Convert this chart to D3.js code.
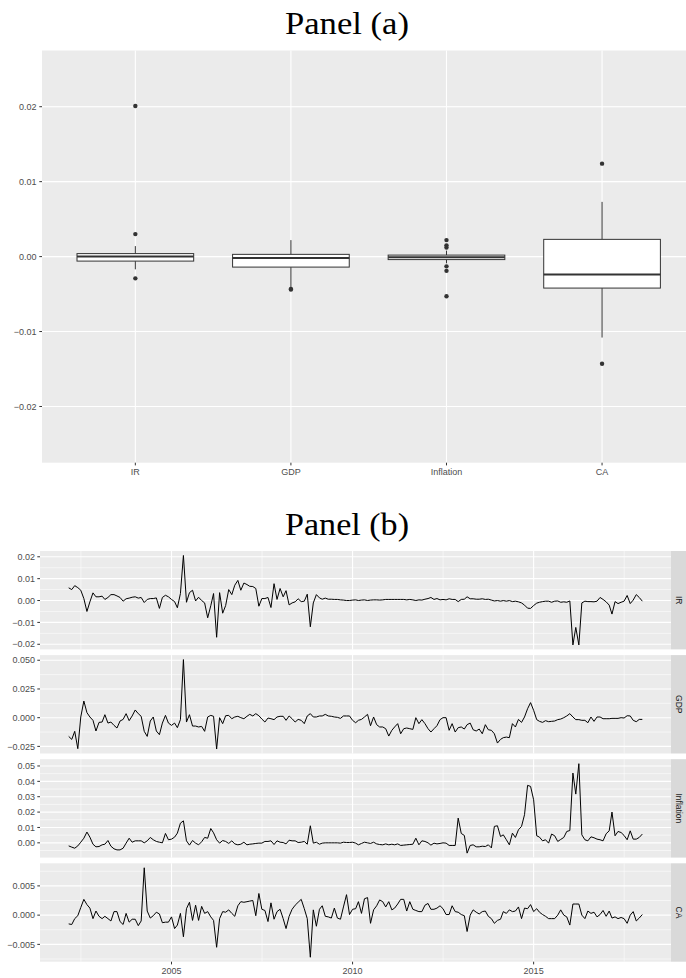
<!DOCTYPE html>
<html><head><meta charset="utf-8">
<script src="https://cdn.jsdelivr.net/npm/d3@7"></script>
<style>html,body{margin:0;padding:0;background:#fff;}svg{display:block;}</style>
</head><body>
<script>
// ---------------- DATA ----------------
const categories = ["IR", "GDP", "Inflation", "CA"];
const boxQ1  = [-0.0006, -0.0014, -0.0004, -0.0042];
const boxMed = [ 0.0000, -0.0002, -0.0001, -0.0024];
const boxQ3  = [ 0.0004,  0.0003,  0.0002,  0.0023];
const boxLo  = [-0.0017, -0.0042, -0.0009, -0.0108];
const boxHi  = [ 0.0014,  0.0022,  0.0008,  0.0073];
const boxOut = [[0.0201, 0.0030, -0.0029], [-0.0044, -0.0043],
                [0.0022, 0.0015, 0.0012, -0.0013, -0.0019, -0.0053], [0.0124, -0.0143]];
const yLimitsA = [-0.025, 0.025];
const yBreaksA = [-0.02, -0.01, 0, 0.01, 0.02];

const startMonth = [2002, 3];   // first observation (year, month)
const irVals = [0.0058,0.0050,0.0068,0.0059,0.0047,0.0009,-0.0050,-0.0006,0.0035,0.0017,
0.0017,0.0020,0.0005,0.0014,0.0027,0.0027,0.0021,0.0014,-0.0003,0.0008,
0.0011,0.0015,0.0017,0.0011,0.0014,-0.0009,0.0005,0.0009,0.0009,0.0012,
-0.0036,0.0014,0.0024,0.0017,0.0005,-0.0005,-0.0033,0.0032,0.0206,-0.0008,
0.0036,0.0047,-0.0002,0.0015,0.0000,-0.0011,-0.0079,-0.0024,0.0032,-0.0168,
0.0036,-0.0058,-0.0023,0.0050,0.0027,0.0070,0.0092,0.0047,0.0080,0.0073,
0.0065,0.0064,0.0055,-0.0026,0.0009,0.0009,0.0014,-0.0032,0.0077,0.0005,
0.0055,0.0017,0.0045,-0.0020,-0.0011,-0.0006,0.0008,-0.0005,-0.0003,0.0029,
-0.0120,-0.0011,0.0027,0.0012,0.0006,0.0011,0.0006,0.0006,0.0005,0.0005,
0.0003,0.0002,0.0000,0.0000,0.0002,0.0003,0.0000,0.0002,0.0003,0.0000,
0.0002,0.0003,0.0003,0.0002,0.0003,0.0005,0.0005,0.0005,0.0005,0.0005,
0.0005,0.0005,0.0003,0.0005,0.0003,0.0000,0.0003,0.0002,0.0006,0.0009,
0.0014,0.0005,0.0009,0.0003,0.0005,0.0003,0.0008,0.0005,0.0005,-0.0005,
0.0005,0.0006,0.0017,0.0008,0.0008,0.0006,0.0006,0.0008,0.0005,0.0006,
0.0002,-0.0002,0.0000,-0.0003,0.0000,-0.0003,0.0000,-0.0005,-0.0003,-0.0006,
-0.0011,-0.0021,-0.0035,-0.0036,-0.0023,-0.0012,-0.0008,-0.0005,-0.0003,-0.0003,
-0.0008,-0.0003,-0.0002,-0.0008,-0.0006,-0.0008,-0.0002,-0.0203,-0.0123,-0.0203,
-0.0011,-0.0003,-0.0005,-0.0005,-0.0006,-0.0003,0.0014,0.0005,-0.0006,-0.0021,
-0.0062,-0.0005,-0.0014,-0.0008,-0.0003,0.0023,-0.0014,0.0002,0.0027,0.0014,-0.0003];
const gdpVals = [-0.0163,-0.0189,-0.0119,-0.0270,0.0006,0.0145,0.0044,0.0006,-0.0023,-0.0116,
-0.0041,-0.0038,0.0026,-0.0047,-0.0038,-0.0067,-0.0090,-0.0029,-0.0015,0.0035,
-0.0026,0.0015,0.0067,0.0035,0.0012,-0.0119,-0.0163,-0.0029,0.0006,-0.0116,
-0.0148,-0.0047,0.0020,-0.0047,-0.0067,-0.0047,-0.0087,-0.0017,0.0506,-0.0038,
0.0026,-0.0073,-0.0073,-0.0081,-0.0076,-0.0119,0.0006,0.0020,0.0012,-0.0273,
0.0000,-0.0052,0.0017,0.0020,-0.0009,0.0006,0.0012,0.0000,-0.0009,0.0012,
0.0029,0.0015,0.0035,0.0017,-0.0012,-0.0038,-0.0003,-0.0009,-0.0017,0.0006,
0.0012,0.0012,-0.0023,0.0015,-0.0009,-0.0038,-0.0015,-0.0023,-0.0052,0.0015,
0.0035,0.0006,0.0006,0.0015,0.0015,0.0029,0.0015,0.0012,0.0006,0.0003,
-0.0006,0.0015,0.0015,0.0015,-0.0023,-0.0044,-0.0023,-0.0015,0.0006,0.0029,
-0.0070,0.0006,-0.0061,-0.0081,-0.0081,-0.0096,-0.0160,-0.0110,-0.0081,-0.0052,
-0.0140,-0.0096,-0.0090,-0.0096,-0.0102,0.0000,-0.0052,-0.0017,-0.0052,-0.0096,
-0.0125,-0.0096,-0.0070,-0.0017,0.0000,0.0000,-0.0110,-0.0052,-0.0125,-0.0087,
-0.0081,-0.0099,-0.0061,-0.0047,-0.0105,-0.0116,-0.0099,-0.0140,-0.0061,-0.0105,
-0.0110,-0.0140,-0.0221,-0.0189,-0.0174,-0.0169,-0.0174,-0.0052,-0.0081,-0.0015,
-0.0041,0.0006,0.0078,0.0131,0.0064,-0.0017,-0.0032,-0.0041,-0.0026,-0.0035,
-0.0032,-0.0029,-0.0017,-0.0012,0.0000,0.0015,0.0035,0.0006,-0.0017,-0.0017,
-0.0023,-0.0023,-0.0044,0.0006,-0.0032,0.0006,0.0006,-0.0009,-0.0009,-0.0009,
-0.0006,-0.0006,-0.0006,0.0000,-0.0003,0.0017,0.0015,-0.0023,-0.0035,-0.0015,-0.0015];
const inflVals = [-0.0020,-0.0028,-0.0035,-0.0020,0.0004,0.0030,0.0070,0.0037,-0.0009,-0.0026,
-0.0024,-0.0013,-0.0009,0.0015,-0.0022,-0.0039,-0.0046,-0.0046,-0.0035,-0.0002,
0.0030,0.0004,0.0013,0.0013,0.0013,0.0000,0.0013,0.0035,0.0020,0.0009,
0.0004,0.0000,0.0061,0.0020,0.0024,0.0037,0.0063,0.0128,0.0143,0.0013,
-0.0015,0.0015,-0.0002,-0.0013,0.0007,0.0035,0.0030,0.0093,0.0065,0.0020,
-0.0002,0.0015,0.0009,-0.0004,0.0013,-0.0007,-0.0013,-0.0009,0.0004,-0.0013,
-0.0009,-0.0007,-0.0004,-0.0002,-0.0002,0.0009,0.0009,0.0013,-0.0011,0.0013,
0.0004,0.0002,-0.0007,0.0017,0.0013,0.0013,0.0002,0.0004,0.0009,-0.0009,
0.0111,-0.0002,0.0004,-0.0009,-0.0002,0.0000,0.0000,0.0000,0.0000,0.0000,
-0.0002,0.0004,0.0002,0.0002,0.0004,-0.0002,-0.0013,-0.0004,0.0004,0.0000,
-0.0004,0.0004,-0.0007,-0.0011,-0.0013,-0.0007,-0.0013,-0.0009,-0.0013,-0.0007,
-0.0017,-0.0015,-0.0013,-0.0011,-0.0009,0.0030,-0.0013,0.0013,0.0009,0.0000,
-0.0015,-0.0002,-0.0007,-0.0004,0.0000,-0.0002,-0.0017,-0.0017,-0.0017,0.0161,
0.0061,0.0048,-0.0067,-0.0017,-0.0013,-0.0026,-0.0026,-0.0022,-0.0024,-0.0013,
-0.0033,0.0107,0.0111,0.0041,0.0052,0.0020,-0.0013,0.0063,0.0035,0.0085,
0.0107,0.0183,0.0374,0.0367,0.0280,0.0046,0.0037,0.0013,0.0020,-0.0002,
0.0057,0.0046,0.0009,0.0022,0.0035,0.0074,0.0080,0.0454,0.0317,0.0515,
0.0052,0.0020,0.0013,0.0039,0.0033,0.0024,0.0020,0.0013,0.0059,0.0078,
0.0200,0.0046,0.0074,0.0067,0.0048,0.0020,0.0078,0.0024,0.0024,0.0035,0.0057];
const caVals = [-0.0015,-0.0016,-0.0006,-0.0001,0.0013,0.0027,0.0018,0.0012,-0.0006,0.0007,
-0.0002,-0.0006,-0.0002,-0.0006,-0.0010,0.0006,0.0006,-0.0011,-0.0016,0.0003,
-0.0012,-0.0007,-0.0007,-0.0018,-0.0010,0.0081,0.0007,-0.0005,-0.0001,0.0005,
0.0002,-0.0013,-0.0012,-0.0012,-0.0003,-0.0023,-0.0017,0.0003,-0.0037,0.0011,
0.0022,-0.0009,0.0017,-0.0009,0.0015,0.0003,0.0006,-0.0003,-0.0009,-0.0055,
-0.0006,0.0006,0.0005,0.0009,0.0003,-0.0002,0.0016,0.0023,0.0022,0.0023,
0.0024,0.0025,-0.0001,0.0037,0.0010,0.0008,-0.0011,0.0021,-0.0007,0.0006,
0.0010,-0.0006,-0.0023,-0.0002,0.0010,0.0017,0.0022,0.0027,0.0011,-0.0006,
-0.0072,0.0009,-0.0019,0.0010,0.0016,-0.0002,-0.0003,-0.0005,0.0012,-0.0005,
-0.0007,0.0014,0.0035,0.0001,0.0010,0.0011,0.0023,0.0003,0.0028,0.0030,
-0.0014,0.0009,0.0016,0.0026,0.0023,0.0014,0.0023,0.0009,0.0012,0.0019,
0.0027,0.0027,0.0007,0.0023,0.0010,0.0008,0.0006,0.0006,0.0017,0.0020,
0.0010,0.0010,0.0012,0.0016,0.0011,0.0001,0.0001,0.0016,0.0006,0.0005,
0.0001,-0.0001,-0.0028,0.0000,0.0009,0.0005,0.0002,0.0006,0.0007,-0.0002,
-0.0006,-0.0014,-0.0009,-0.0007,0.0006,0.0003,0.0009,0.0006,0.0007,0.0014,
-0.0006,0.0012,0.0011,0.0018,0.0006,0.0011,0.0005,0.0001,-0.0002,-0.0006,
-0.0006,-0.0006,0.0000,0.0009,0.0000,-0.0003,-0.0017,0.0019,0.0019,0.0019,
0.0000,-0.0006,0.0007,0.0003,0.0005,-0.0003,0.0001,0.0008,-0.0002,0.0007,
-0.0005,-0.0003,-0.0006,-0.0004,-0.0006,-0.0014,0.0000,0.0006,-0.0010,-0.0005,0.0001];

const facetNames = ["IR", "GDP", "Inflation", "CA"];
const facetVals = [irVals, gdpVals, inflVals, caVals];
const facetBreaks = [[-0.02,-0.01,0,0.01,0.02], [-0.025,0,0.025,0.05],
                     [0,0.01,0.02,0.03,0.04,0.05], [-0.005,0,0.005]];
const facetFormats = [".2f", ".3f", ".2f", ".3f"];
const yearBreaks = [2005, 2010, 2015];
const minorYearBreaks = [2000, 2005, 2010, 2015, 2020];

// ---------------- DRAW ----------------
const W = 686, H = 978;
const svg = d3.select("body").append("svg").attr("width", W).attr("height", H)
  .style("font-family", "'Liberation Sans', Arial, sans-serif");
svg.append("rect").attr("width", W).attr("height", H).attr("fill", "#fff");

const BG = "#EBEBEB", AX_TXT = "#4D4D4D", TICK = "#333333";
const fsAxis = 9;

function title(txt, y) {
  svg.append("text").attr("x", 347).attr("y", y).attr("text-anchor", "middle")
    .attr("font-family", "'Liberation Serif', 'Times New Roman', serif")
    .attr("font-size", 31).attr("textLength", 124).attr("lengthAdjust", "spacingAndGlyphs")
    .attr("fill", "#000").text(txt);
}
function expand(ext, m) { const r = ext[1] - ext[0]; return [ext[0] - r * m, ext[1] + r * m]; }

// ---- Panel (a) ----
title("Panel (a)", 34);
const pa = {l: 42, r: 695.4, t: 50.5, b: 462.7};
const xA = d3.scalePoint().domain(categories).range([pa.l, pa.r]).padding(0.6);
const yA = d3.scaleLinear().domain(expand(yLimitsA, 0.05)).range([pa.b, pa.t]);
const gA = svg.append("g");
gA.append("rect").attr("x", pa.l).attr("y", pa.t).attr("width", pa.r - pa.l).attr("height", pa.b - pa.t).attr("fill", BG);
const stepA = yBreaksA[1] - yBreaksA[0];
const minorA = d3.range(yLimitsA[0] - stepA, yLimitsA[1] + stepA * 1.01, stepA).map(v => v + stepA / 2)
  .filter(v => v > yA.domain()[0] && v < yA.domain()[1]);
gA.selectAll(".mn").data(minorA).join("line").attr("x1", pa.l).attr("x2", pa.r)
  .attr("y1", d => yA(d)).attr("y2", d => yA(d)).attr("stroke", "#fff").attr("stroke-width", 0.55);
gA.selectAll(".mj").data(yBreaksA).join("line").attr("x1", pa.l).attr("x2", pa.r)
  .attr("y1", d => yA(d)).attr("y2", d => yA(d)).attr("stroke", "#fff").attr("stroke-width", 1.1);
gA.selectAll(".vx").data(categories).join("line").attr("x1", d => xA(d)).attr("x2", d => xA(d))
  .attr("y1", pa.t).attr("y2", pa.b).attr("stroke", "#fff").attr("stroke-width", 1.1);
// y axis
gA.selectAll(".yt").data(yBreaksA).join("line").attr("x1", pa.l - 2.7).attr("x2", pa.l)
  .attr("y1", d => yA(d)).attr("y2", d => yA(d)).attr("stroke", TICK).attr("stroke-width", 1);
gA.selectAll(".yl").data(yBreaksA).join("text").attr("x", pa.l - 5.5).attr("y", d => yA(d) + 3.2)
  .attr("text-anchor", "end").attr("font-size", fsAxis).attr("fill", AX_TXT).text(d => d3.format(".2f")(d));
// x axis
gA.selectAll(".xt").data(categories).join("line").attr("x1", d => xA(d)).attr("x2", d => xA(d))
  .attr("y1", pa.b).attr("y2", pa.b + 2.7).attr("stroke", TICK).attr("stroke-width", 1);
gA.selectAll(".xl").data(categories).join("text").attr("x", d => xA(d)).attr("y", pa.b + 12.3)
  .attr("text-anchor", "middle").attr("font-size", fsAxis).attr("fill", AX_TXT).text(d => d);
// boxes
const bw = xA.step() * 0.75;
categories.forEach((c, i) => {
  const cx = xA(c);
  const g = gA.append("g");
  g.append("line").attr("x1", cx).attr("x2", cx).attr("y1", yA(boxHi[i])).attr("y2", yA(boxQ3[i])).attr("stroke", TICK).attr("stroke-width", 1);
  g.append("line").attr("x1", cx).attr("x2", cx).attr("y1", yA(boxQ1[i])).attr("y2", yA(boxLo[i])).attr("stroke", TICK).attr("stroke-width", 1);
  g.append("rect").attr("x", cx - bw / 2).attr("y", yA(boxQ3[i])).attr("width", bw)
    .attr("height", yA(boxQ1[i]) - yA(boxQ3[i])).attr("fill", "#fff").attr("stroke", TICK).attr("stroke-width", 1);
  g.append("line").attr("x1", cx - bw / 2).attr("x2", cx + bw / 2).attr("y1", yA(boxMed[i])).attr("y2", yA(boxMed[i]))
    .attr("stroke", TICK).attr("stroke-width", 2);
  g.selectAll("circle").data(boxOut[i]).join("circle").attr("cx", cx).attr("cy", d => yA(d)).attr("r", 2.2).attr("fill", TICK);
});

// ---- Panel (b) ----
title("Panel (b)", 535);
const dates = d3.timeMonth.range(new Date(startMonth[0], startMonth[1] - 1, 1),
  d3.timeMonth.offset(new Date(startMonth[0], startMonth[1] - 1, 1), irVals.length));
const pb = {l: 40, r: 671, t0: 551, h: 98.4, gap: 104.1, stripW: 15};
const tExt = d3.extent(dates).map(d => +d);
const xB = d3.scaleTime().domain(expand(tExt, 0.05).map(v => new Date(v))).range([pb.l, pb.r]);
const yearDate = y => new Date(y, 0, 1);
const minorDates = d3.pairs(minorYearBreaks).map(([a, b]) => new Date((+yearDate(a) + +yearDate(b)) / 2))
  .filter(d => d > xB.domain()[0] && d < xB.domain()[1]);

facetNames.forEach((name, k) => {
  const top = pb.t0 + k * pb.gap, bot = top + pb.h;
  const vals = facetVals[k];
  const y = d3.scaleLinear().domain(expand(d3.extent(vals), 0.05)).range([bot, top]);
  const g = svg.append("g");
  g.append("rect").attr("x", pb.l).attr("y", top).attr("width", pb.r - pb.l).attr("height", pb.h).attr("fill", BG);
  const br = facetBreaks[k], st = br[1] - br[0];
  const ext = [br[0] - st, ...br, br[br.length - 1] + st];
  const minors = d3.pairs(ext).map(([a, b]) => (a + b) / 2).filter(v => v > y.domain()[0] && v < y.domain()[1]);
  g.selectAll(".mn").data(minors).join("line").attr("x1", pb.l).attr("x2", pb.r)
    .attr("y1", d => y(d)).attr("y2", d => y(d)).attr("stroke", "#fff").attr("stroke-width", 0.55);
  g.selectAll(".mnx").data(minorDates).join("line").attr("x1", d => xB(d)).attr("x2", d => xB(d))
    .attr("y1", top).attr("y2", bot).attr("stroke", "#fff").attr("stroke-width", 0.55);
  g.selectAll(".mj").data(br).join("line").attr("x1", pb.l).attr("x2", pb.r)
    .attr("y1", d => y(d)).attr("y2", d => y(d)).attr("stroke", "#fff").attr("stroke-width", 1.1);
  g.selectAll(".mjx").data(yearBreaks).join("line").attr("x1", d => xB(yearDate(d))).attr("x2", d => xB(yearDate(d)))
    .attr("y1", top).attr("y2", bot).attr("stroke", "#fff").attr("stroke-width", 1.1);
  // series line
  g.append("path").datum(vals).attr("fill", "none").attr("stroke", "#000").attr("stroke-width", 1)
    .attr("stroke-linejoin", "round")
    .attr("d", d3.line().x((d, i) => xB(dates[i])).y(d => y(d)));
  // y axis
  g.selectAll(".yt").data(br).join("line").attr("x1", pb.l - 2.7).attr("x2", pb.l)
    .attr("y1", d => y(d)).attr("y2", d => y(d)).attr("stroke", TICK).attr("stroke-width", 1);
  g.selectAll(".yl").data(br).join("text").attr("x", pb.l - 5).attr("y", d => y(d) + 3.2)
    .attr("text-anchor", "end").attr("font-size", fsAxis).attr("fill", AX_TXT).text(d => d3.format(facetFormats[k])(d));
  // strip
  g.append("rect").attr("x", pb.r).attr("y", top).attr("width", pb.stripW).attr("height", pb.h).attr("fill", "#D9D9D9");
  g.append("text").attr("transform", `translate(${pb.r + pb.stripW / 2 - 2.8},${(top + bot) / 2}) rotate(90)`)
    .attr("text-anchor", "middle").attr("font-size", 8.5).attr("fill", "#1A1A1A").text(name);
  if (k === facetNames.length - 1) {
    g.selectAll(".xt").data(yearBreaks).join("line").attr("x1", d => xB(yearDate(d))).attr("x2", d => xB(yearDate(d)))
      .attr("y1", bot).attr("y2", bot + 2.7).attr("stroke", TICK).attr("stroke-width", 1);
    g.selectAll(".xl").data(yearBreaks).join("text").attr("x", d => xB(yearDate(d))).attr("y", bot + 12.3)
      .attr("text-anchor", "middle").attr("font-size", fsAxis).attr("fill", AX_TXT).text(d => d);
  }
});
</script>
</body></html>
